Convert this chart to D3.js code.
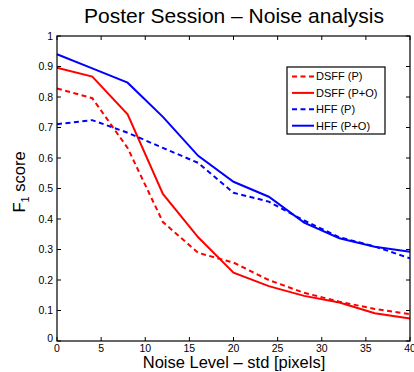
<!DOCTYPE html>
<html>
<head>
<meta charset="utf-8">
<script src="https://cdn.jsdelivr.net/npm/d3@7"></script>
<style>
  body { margin: 0; background: #fff; }
  svg { display: block; font-family: "Liberation Sans", Arial, Helvetica, sans-serif; }
</style>
</head>
<body>
<div id="chart"></div>
<script>
/* ===== Noise analysis line chart ===== */

const noiseLevels = [0, 4, 8, 12, 16, 20, 24, 28, 32, 36, 40];
const dsffP  = [0.828, 0.796, 0.633, 0.39, 0.289, 0.257, 0.2, 0.158, 0.129, 0.105, 0.088];
const dsffPO = [0.896, 0.867, 0.743, 0.482, 0.34, 0.224, 0.18, 0.148, 0.126, 0.091, 0.074];
const hffP   = [0.711, 0.724, 0.683, 0.633, 0.584, 0.486, 0.457, 0.395, 0.34, 0.31, 0.271];
const hffPO  = [0.94, 0.894, 0.847, 0.735, 0.607, 0.522, 0.473, 0.388, 0.337, 0.309, 0.293];

const seriesNames = ['DSFF (P)', 'DSFF (P+O)', 'HFF (P)', 'HFF (P+O)'];
const xTicks = [0, 5, 10, 15, 20, 25, 30, 35, 40];
const yTicks = [0, 0.1, 0.2, 0.3, 0.4, 0.5, 0.6, 0.7, 0.8, 0.9, 1];

const series = [
  { name: seriesNames[0], values: dsffP,  color: '#ff0000', dash: '5,3.5' },
  { name: seriesNames[1], values: dsffPO, color: '#ff0000', dash: null },
  { name: seriesNames[2], values: hffP,   color: '#0000ff', dash: '5,3.5' },
  { name: seriesNames[3], values: hffPO,  color: '#0000ff', dash: null }
];

const fullWidth = 414, fullHeight = 372;
const margin = { top: 36, right: 4, bottom: 31, left: 57 };
const w = fullWidth - margin.left - margin.right;
const h = fullHeight - margin.top - margin.bottom;

const svg = d3.select('#chart')
  .append('svg')
  .attr('width', fullWidth)
  .attr('height', fullHeight);

const g = svg.append('g')
  .attr('transform', `translate(${margin.left},${margin.top})`);

const x = d3.scaleLinear().domain([0, 40]).range([0, w]);
const y = d3.scaleLinear().domain([0, 1]).range([h, 0]);

// Lines
const line = d3.line()
  .x((d, i) => x(noiseLevels[i]))
  .y(d => y(d));

g.selectAll('.series')
  .data(series)
  .join('path')
  .attr('class', 'series')
  .attr('fill', 'none')
  .attr('stroke', d => d.color)
  .attr('stroke-width', 2)
  .attr('stroke-dasharray', d => d.dash)
  .attr('d', d => line(d.values));

// Box
g.append('rect')
  .attr('width', w).attr('height', h)
  .attr('fill', 'none')
  .attr('stroke', '#000')
  .attr('stroke-width', 1.2);

// Ticks, inward on all four sides
const tl = 4;
g.selectAll('.xt-b').data(xTicks).join('line')
  .attr('x1', d => x(d)).attr('x2', d => x(d))
  .attr('y1', h).attr('y2', h - tl)
  .attr('stroke', '#000');
g.selectAll('.xt-t').data(xTicks).join('line')
  .attr('x1', d => x(d)).attr('x2', d => x(d))
  .attr('y1', 0).attr('y2', tl)
  .attr('stroke', '#000');
g.selectAll('.yt-l').data(yTicks).join('line')
  .attr('x1', 0).attr('x2', tl)
  .attr('y1', d => y(d)).attr('y2', d => y(d))
  .attr('stroke', '#000');
g.selectAll('.yt-r').data(yTicks).join('line')
  .attr('x1', w).attr('x2', w - tl)
  .attr('y1', d => y(d)).attr('y2', d => y(d))
  .attr('stroke', '#000');

// Tick labels
g.selectAll('.x-label').data(xTicks).join('text')
  .attr('x', d => x(d))
  .attr('y', h + 11)
  .attr('text-anchor', 'middle')
  .attr('font-size', '10.5px')
  .attr('fill', '#000')
  .text(d => d);

g.selectAll('.y-label').data(yTicks).join('text')
  .attr('x', -4)
  .attr('y', d => y(d))
  .attr('dy', d => d === 0 ? '0.1em' : '0.35em')
  .attr('text-anchor', 'end')
  .attr('font-size', '10.5px')
  .attr('fill', '#000')
  .text(d => d);

// Title
svg.append('text')
  .attr('x', 234).attr('y', 23)
  .attr('text-anchor', 'middle')
  .attr('font-size', '21px')
  .text('Poster Session \u2013 Noise analysis');

// X axis label
svg.append('text')
  .attr('x', 234).attr('y', 368)
  .attr('text-anchor', 'middle')
  .attr('font-size', '16.5px')
  .text('Noise Level \u2013 std [pixels]');

// Y axis label with subscript
const yl = svg.append('text')
  .attr('transform', 'translate(25,182) rotate(-90)')
  .attr('text-anchor', 'middle')
  .attr('font-size', '16.5px');
yl.append('tspan').text('F');
yl.append('tspan').attr('font-size', '11px').attr('dy', 4).text('1');
yl.append('tspan').attr('dy', -4).text(' score');

// Legend
const lg = svg.append('g').attr('transform', 'translate(287,67)');
lg.append('rect')
  .attr('width', 98).attr('height', 67)
  .attr('fill', '#fff')
  .attr('stroke', '#000')
  .attr('stroke-width', 1.2);
const rows = lg.selectAll('.row').data(series).join('g')
  .attr('transform', (d, i) => `translate(0,${9.5 + i * 16.4})`);
rows.append('line')
  .attr('x1', 5).attr('x2', 27)
  .attr('stroke', d => d.color)
  .attr('stroke-width', 2)
  .attr('stroke-dasharray', d => d.dash);
rows.append('text')
  .attr('x', 29).attr('dy', '0.35em')
  .attr('font-size', '11px')
  .text(d => d.name);
</script>
</body>
</html>
